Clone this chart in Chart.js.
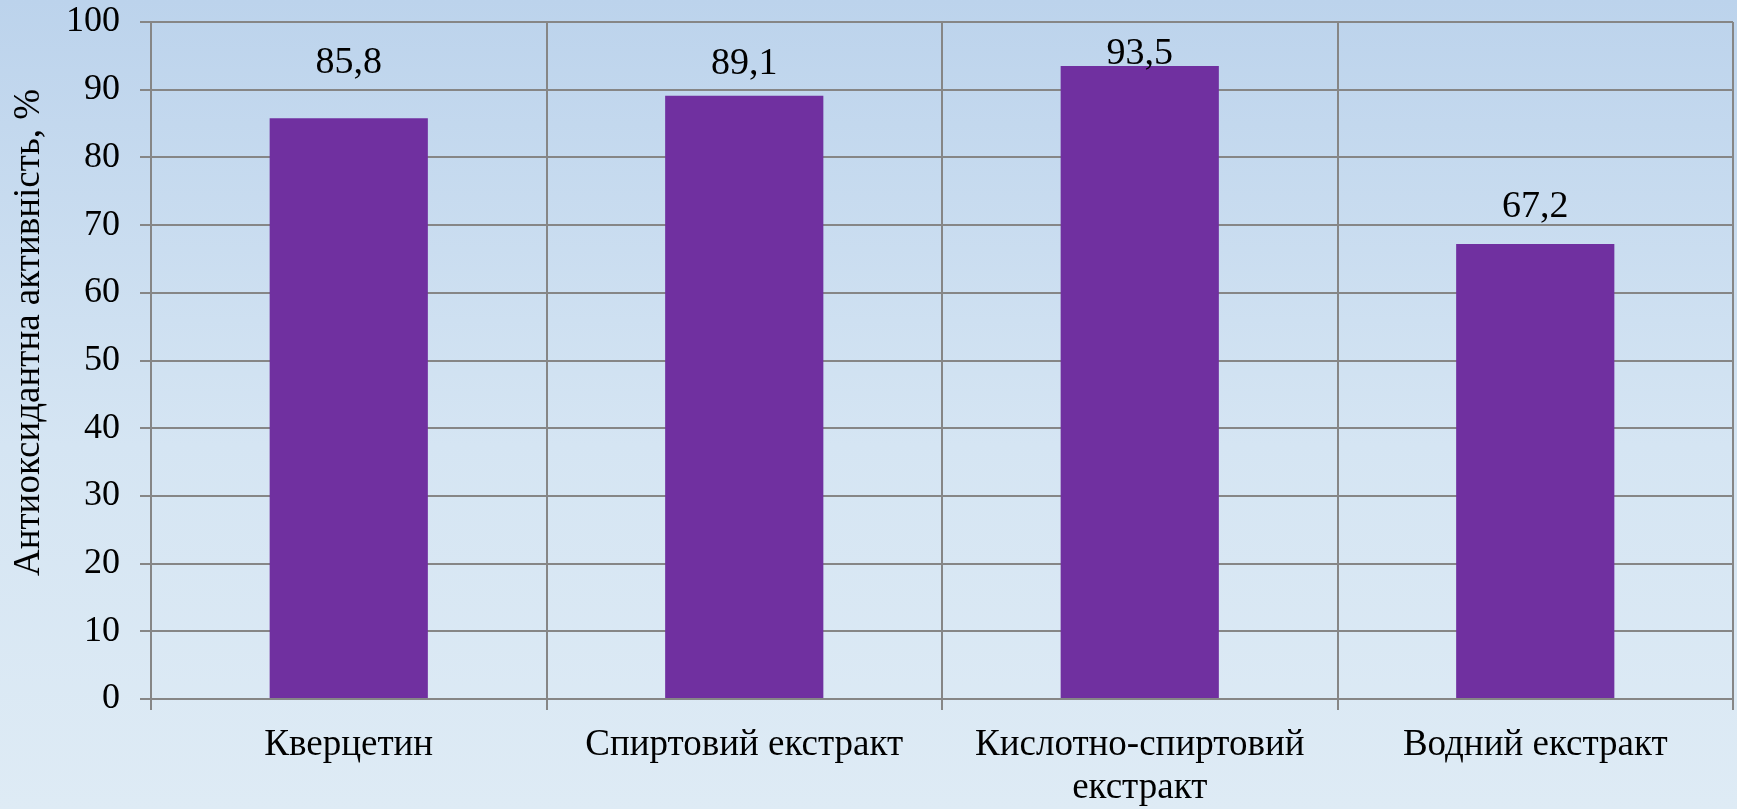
<!DOCTYPE html>
<html>
<head>
<meta charset="utf-8">
<script src="https://cdn.jsdelivr.net/npm/chart.js@4/dist/chart.umd.min.js"></script>
<style>
    html, body { margin: 0; padding: 0; }
    body {
        width: 1737px;
        height: 809px;
        overflow: hidden;
        background: linear-gradient(to bottom, rgb(188, 211, 236) 0%, rgb(213, 229, 243) 55%, rgb(222, 235, 245) 100%);
    }
    #wrap { position: relative; width: 1737px; height: 809px; }
</style>
</head>
<body>
<div id="wrap"><canvas id="chart"></canvas></div>
<script>
    var categories = [
        'Кверцетин',
        'Спиртовий екстракт',
        ['Кислотно-спиртовий', 'екстракт'],
        'Водний екстракт'
    ]
    var activity = [85.8, 89.1, 93.5, 67.2]
    var yTicks = [0, 10, 20, 30, 40, 50, 60, 70, 80, 90, 100]
    var axisTitle = 'Антиоксидантна активність, %'

    var FONT = "'Liberation Serif', 'Times New Roman', serif"
    var GRID = 'rgb(134, 134, 134)'
    var BAR = 'rgb(112, 48, 160)'

    // how far each value label sits above its bar, px
    var labelLift = [45, 22, 2, 27]

    var valueLabels = {
        id: 'valueLabels',
        afterDatasetsDraw(chart) {
            var ctx = chart.ctx
            var meta = chart.getDatasetMeta(0)
            ctx.save()
            ctx.font = '38px ' + FONT
            ctx.fillStyle = '#000'
            ctx.textAlign = 'center'
            ctx.textBaseline = 'alphabetic'
            meta.data.forEach(function(bar, i) {
                var text = String(activity[i]).replace('.', ',')
                ctx.fillText(text, bar.x, bar.y - labelLift[i])
            })
            ctx.restore()
        }
    }

    // rotated y title, a bit above the middle of the plot
    var yTitle = {
        id: 'yTitle',
        afterDraw(chart) {
            var ctx = chart.ctx
            var area = chart.chartArea
            ctx.save()
            ctx.translate(29, (area.top + area.bottom) / 2 - 28)
            ctx.rotate(-Math.PI / 2)
            ctx.font = '37px ' + FONT
            ctx.fillStyle = '#000'
            ctx.textAlign = 'center'
            ctx.textBaseline = 'middle'
            ctx.fillText(axisTitle, 0, 0)
            ctx.restore()
        }
    }

    var el = document.getElementById('chart')
    var chart = new Chart(el, {
        type: 'bar',
        data: {
            labels: categories,
            datasets: [
                {
                    label: axisTitle,
                    data: activity,
                    backgroundColor: BAR,
                    borderWidth: 0,
                    categoryPercentage: 1,
                    barPercentage: 0.4
                }
            ]
        },
        options: {
            responsive: true,
            maintainAspectRatio: false,
            animation: false,
            layout: {
                padding: { top: 22, right: 4, bottom: 0, left: 0 }
            },
            plugins: {
                legend: { display: false },
                tooltip: { enabled: false }
            },
            scales: {
                x: {
                    offset: true,
                    afterFit(scale) {
                        scale.height = 110
                    },
                    grid: {
                        offset: true,
                        color: GRID,
                        lineWidth: 2,
                        tickLength: 11,
                        drawTicks: true
                    },
                    border: { color: GRID, width: 2 },
                    ticks: {
                        color: '#000',
                        padding: 14,
                        maxRotation: 0,
                        autoSkip: false,
                        font: { family: FONT, size: 37, lineHeight: 1.15 }
                    }
                },
                y: {
                    min: 0,
                    max: 100,
                    afterBuildTicks(scale) {
                        scale.ticks = yTicks.map(function(v) { return { value: v } })
                    },
                    afterFit(scale) {
                        scale.width = 151
                        scale.paddingTop = 0
                        scale.paddingBottom = 0
                    },
                    grid: {
                        color: GRID,
                        lineWidth: 2,
                        tickLength: 11
                    },
                    border: { color: GRID, width: 2 },
                    ticks: {
                        color: '#000',
                        padding: 20,
                        font: { family: FONT, size: 36 }
                    }
                }
            }
        },
        plugins: [valueLabels, yTitle]
    })
</script>
</body>
</html>
